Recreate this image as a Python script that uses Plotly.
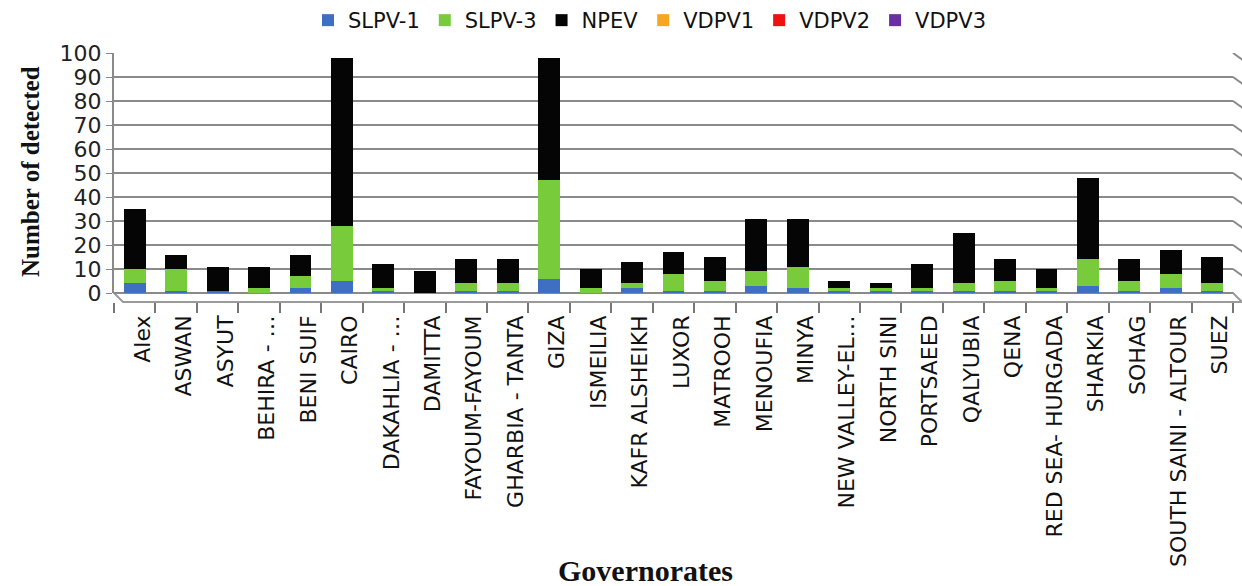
import plotly.graph_objects as go

# Governorates and detections per virus type
governorates = [
    "Alex", "ASWAN", "ASYUT", "BEHIRA - …", "BENI SUIF", "CAIRO", "DAKAHLIA - …",
    "DAMITTA", "FAYOUM-FAYOUM", "GHARBIA - TANTA", "GIZA", "ISMEILIA",
    "KAFR ALSHEIKH", "LUXOR", "MATROOH", "MENOUFIA", "MINYA", "NEW VALLEY-EL…",
    "NORTH SINI", "PORTSAEED", "QALYUBIA", "QENA", "RED SEA- HURGADA",
    "SHARKIA", "SOHAG", "SOUTH SAINI - ALTOUR", "SUEZ",
]
slpv1 = [4, 1, 1, 0, 2, 5, 1, 0, 1, 1, 6, 0, 2, 1, 1, 3, 2, 1, 1, 1, 1, 1, 1, 3, 1, 2, 1]
slpv3 = [6, 9, 0, 2, 5, 23, 1, 0, 3, 3, 41, 2, 2, 7, 4, 6, 9, 1, 1, 1, 3, 4, 1, 11, 4, 6, 3]
npev = [25, 6, 10, 9, 9, 70, 10, 9, 10, 10, 51, 8, 9, 9, 10, 22, 20, 3, 2, 10, 21, 9, 8, 34, 9, 10, 11]
vdpv1 = [0] * len(governorates)
vdpv2 = [0] * len(governorates)
vdpv3 = [0] * len(governorates)

y_ticks = list(range(0, 101, 10))

series = [
    ("SLPV-1", slpv1, "#3f6fc2"),
    ("SLPV-3", slpv3, "#78cc3c"),
    ("NPEV", npev, "#050505"),
    ("VDPV1", vdpv1, "#f5a623"),
    ("VDPV2", vdpv2, "#ee1111"),
    ("VDPV3", vdpv3, "#6a2fa0"),
]

W, H = 1242, 586
ML, MR, MT, MB = 114, 9, 53, 284
plot_w = W - ML - MR
plot_h = H - MT - MB
bottom_px = H - MB       # pixel row of the category axis (front edge of the floor)
floor_px = 9             # depth of the floor strip under the zero line
side_dx, side_dy = 15, 11  # slant of the side wall


def px(v):
    """Pixel column -> paper x."""
    return (v - ML) / plot_w


def py(v):
    """Pixel row (from top) -> paper y."""
    return (bottom_px - v) / plot_h


fig = go.Figure()
for name, vals, color in series:
    fig.add_trace(go.Bar(
        x=governorates, y=vals, name=name,
        marker=dict(color=color, line=dict(width=0)),
    ))

shapes = []
# floor of the 3-D box, between the back wall and the category axis
fy_back = py(bottom_px - floor_px)
shapes.append(dict(
    type="path", xref="paper", yref="paper",
    path=(f"M {px(ML)} {fy_back} L {px(W - MR)} {fy_back} "
          f"L {px(W - MR + side_dx - 6)} 0 L {px(ML + 9)} 0 Z"),
    line=dict(color="#9a9a9a", width=2), fillcolor="rgba(0,0,0,0)", layer="below",
))
# side wall: each gridline bends towards the viewer at the right edge
y_unit = (plot_h - floor_px) / 100.0
for v in y_ticks[1:]:
    shapes.append(dict(
        type="line", xref="paper", yref="y",
        x0=1.0, y0=v, x1=1.0 + side_dx / plot_w, y1=v - side_dy / y_unit,
        line=dict(color="#8a8a8a", width=2), layer="below",
    ))

fig.update_layout(
    barmode="stack",
    bargap=0.47,
    width=W, height=H,
    margin=dict(l=ML, r=MR, t=MT, b=MB, autoexpand=False),
    paper_bgcolor="white",
    plot_bgcolor="white",
    font=dict(family="DejaVu Sans", color="#111111"),
    legend=dict(
        orientation="h", x=0.479, xanchor="center", y=1.0, yref="container",
        yanchor="top", font=dict(size=21, family="DejaVu Sans"),
        itemwidth=30, traceorder="normal",
    ),
    xaxis=dict(
        tickangle=-90,
        tickfont=dict(size=22, family="DejaVu Sans", color="#111111"),
        ticks="outside", ticklen=10, tickcolor="#777777", tickwidth=2,
        tickson="boundaries", ticklabelshift=8, ticklabelstandoff=8,
        showline=False, anchor="free", position=0,
        range=[-0.5, len(governorates) - 0.5],
    ),
    yaxis=dict(
        range=[0, 100], tickvals=y_ticks,
        domain=[floor_px / plot_h, 1],
        tickfont=dict(size=22, family="DejaVu Sans", color="#222222"),
        showgrid=True, gridcolor="#8a8a8a", gridwidth=2,
        zeroline=True, zerolinecolor="#8a8a8a", zerolinewidth=2,
        ticks="outside", ticklen=6, tickcolor="#8a8a8a",
        showline=True, linecolor="#8a8a8a", linewidth=2,
    ),
    shapes=shapes,
    annotations=[
        dict(text="<b>Number of detected</b>", xref="paper", yref="paper",
             x=px(30), y=py(172), xanchor="center",
             yanchor="middle", textangle=-90, showarrow=False,
             font=dict(family="Liberation Serif", size=25, color="#111111")),
        dict(text="<b>Governorates</b>", xref="paper", yref="paper",
             x=px(645), y=py(570), xanchor="center",
             yanchor="middle", showarrow=False,
             font=dict(family="Liberation Serif", size=30, color="#111111")),
    ],
)

fig.write_html("out.html")
